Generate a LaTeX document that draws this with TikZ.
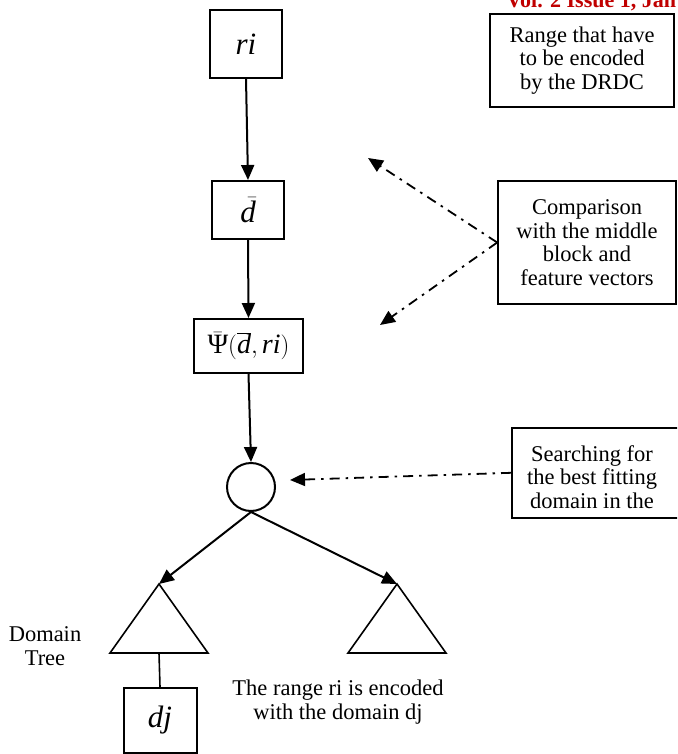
\documentclass[tikz,border=0pt]{standalone}
\usepackage{fontspec}
\setmainfont{Liberation Serif}
\usetikzlibrary{arrows.meta}
\definecolor{hdrred}{RGB}{192,0,0}
\newcommand{\mv}[1]{\hbox{\itshape #1}}

\begin{document}
\begin{tikzpicture}[x=1pt,y=-1pt,line width=2pt,
  box/.style={draw,inner sep=0pt,font=\fontsize{31}{34}\selectfont},
  note/.style={align=center,font=\fontsize{22.5}{23.5}\selectfont},
  notebox/.style={note,draw,line width=1.6pt,inner sep=0pt},
  arr/.style={-{Triangle[length=15pt,width=13pt]}},
  dashdot/.style={line width=1.8pt,dash pattern=on 10pt off 6pt on 2.5pt off 6pt,-{Triangle[length=15pt,width=13pt]}}]
\useasboundingbox (0,0) rectangle (677,754);
\clip (0,0) rectangle (677,754);

% header of the page
\node[anchor=base west,text=hdrred,font=\fontsize{22}{24}\selectfont\bfseries] (hdr) at (502,8) {Vol. 2 Issue 1, Jan};

% main column
\node[box,minimum width=72pt,minimum height=68pt] (ri) at (246,44) {\mv{ri}};
\node[box,minimum width=72pt,minimum height=58pt] (dbar) at (248,210) {$\skew{6}\bar{\mv{d}}$};
\node[box,minimum width=109pt,minimum height=54pt,font=\fontsize{28}{30}\selectfont] (psi) at (248.5,346) {$\bar{\hbox{Ψ}}\bigl(\overline{\mv{d}},\mv{ri}\bigr)$};
\node[draw,circle,minimum size=48pt,inner sep=0pt] (cmp) at (251,487) {};

\draw[arr] (ri.south) -- (dbar.north);
\draw[arr] (dbar.south) -- (psi.north);
\draw[arr] (psi.south) -- (cmp.north);

% domain trees
\coordinate (ltop) at (159,584);
\coordinate (lbase) at (159,653);
\coordinate (rtop) at (397,584);
\draw[line width=1.6pt] (ltop) -- (110,653) -- (208,653) -- cycle;
\draw[line width=1.6pt] (rtop) -- (348,653) -- (446,653) -- cycle;
\draw[arr] (cmp.south) -- (ltop);
\draw[arr] (cmp.south) -- (rtop);

\node[box,minimum width=73pt,minimum height=65pt,anchor=north] (dj) at (160,687) {\mv{dj}};
\draw[line width=1.6pt] (lbase) -- (dj.north);

\node[note] (tree) at (45,646) {Domain\\Tree};
\node[note] (enc) at (338,702) {The range ri is encoded\\with the domain dj};

% notes on the right
\node[notebox,minimum width=184pt,minimum height=93pt] (range) at (582,60.5) {Range that have\\to be encoded\\by the DRDC};
\node[notebox,minimum width=178pt,minimum height=123pt] (comp) at (587,242.5) {Comparison\\with the middle\\block and\\feature vectors};
\node[notebox,minimum width=180pt,minimum height=90pt,anchor=north west] (srch) at (511,427) {};
\node[note] (srchtxt) at (592,477) {Searching for\\the best fitting\\domain in the};

\coordinate (c1) at (368,158);
\coordinate (c2) at (380,325);
\coordinate (c3) at (290,480);
\draw[dashdot] (comp.west) -- (c1);
\draw[dashdot] (comp.west) -- (c2);
\draw[dashdot] (srch.west) -- (c3);
\end{tikzpicture}
\end{document}
